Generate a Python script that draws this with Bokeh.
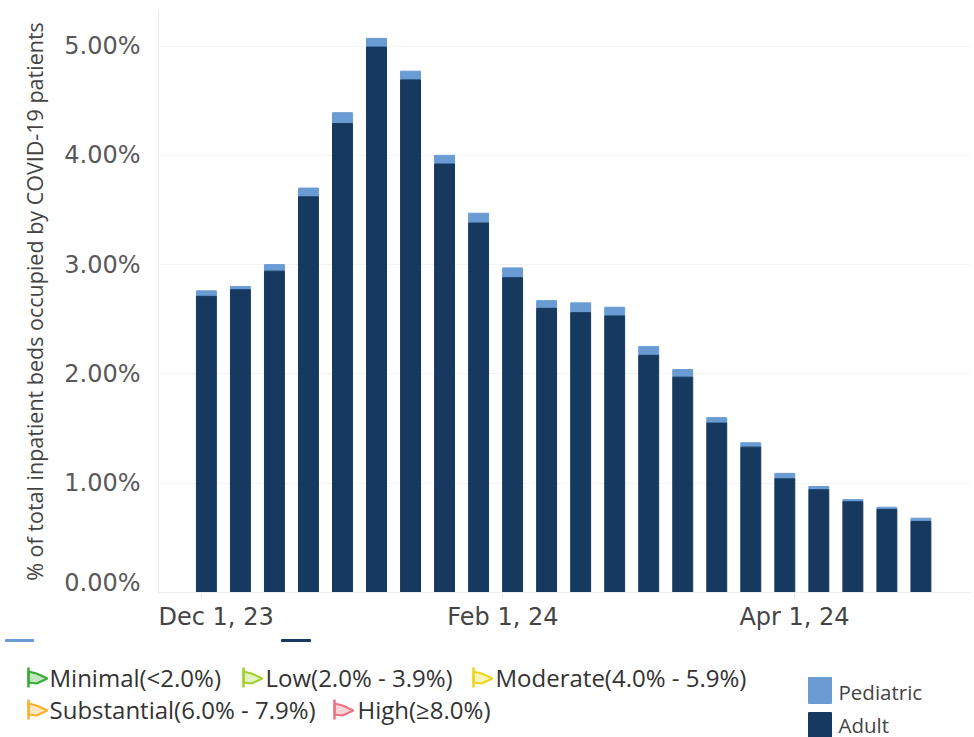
from datetime import datetime, timedelta
from bokeh.plotting import figure
from bokeh.layouts import column
from bokeh.models import Range1d, FixedTicker
from bokeh.core.properties import value
from bokeh.embed import file_html
from bokeh.resources import INLINE

start = datetime(2023, 12, 2)
dates = [start + timedelta(days=7 * i) for i in range(22)]
total = [2.76, 2.80, 3.00, 3.70, 4.39, 5.07, 4.77, 4.00, 3.47, 2.97, 2.67,
         2.65, 2.61, 2.25, 2.04, 1.60, 1.37, 1.09, 0.97, 0.85, 0.78, 0.68]
adult = [2.71, 2.77, 2.94, 3.62, 4.29, 4.99, 4.69, 3.92, 3.38, 2.88, 2.60,
         2.56, 2.53, 2.17, 1.97, 1.55, 1.33, 1.04, 0.94, 0.83, 0.76, 0.65]
y_ticks = [0, 1, 2, 3, 4, 5]
y_label_pos = [0.09, 1, 2, 3, 4, 5]
y_labels = ["0.00%", "1.00%", "2.00%", "3.00%", "4.00%", "5.00%"]
x_label_dates = [datetime(2023, 12, 4), datetime(2024, 2, 1), datetime(2024, 4, 1)]
x_tick_dates = [datetime(2023, 12, 1), datetime(2024, 2, 1), datetime(2024, 4, 1)]
x_labels = ["Dec 1, 23", "Feb 1, 24", "Apr 1, 24"]
severity = ["Minimal(<2.0%)", "Low(2.0% - 3.9%)", "Moderate(4.0% - 5.9%)",
            "Substantial(6.0% - 7.9%)", "High(\u22658.0%)"]
severity_colors = ["#35ad35", "#a4cf2e", "#ecd61a", "#fbb02d", "#ec7482"]
series_names = ["Pediatric", "Adult"]
ADULT = "#15395f"
PED = "#6a9bd3"


def ms(d):
    return (d - datetime(1970, 1, 1)).total_seconds() * 1000


DAY = 86400000
dec1 = ms(x_tick_dates[0])
p = figure(width=974, height=636, output_backend="svg", toolbar_location=None,
           x_axis_type="datetime",
           x_range=Range1d(dec1 - 8.85 * DAY, dec1 + 158.2 * DAY),
           y_range=Range1d(0, 5.325),
           min_border_left=158, min_border_right=4, min_border_top=10, min_border_bottom=44)
p.frame_align = False
p.outline_line_color = None
p.xgrid.grid_line_color = None
p.ygrid.grid_line_color = "#f3f3f3"
p.ygrid.ticker = FixedTicker(ticks=y_ticks)

p.vbar(x=dates, bottom=adult, top=total, width=4.1 * DAY, color=PED)
p.vbar(x=dates, bottom=0, top=adult, width=4.1 * DAY, color=ADULT)

p.yaxis.ticker = FixedTicker(ticks=y_label_pos)
p.yaxis.major_label_overrides = dict(zip(y_label_pos, y_labels))
p.yaxis.major_tick_line_color = None
p.yaxis.minor_tick_line_color = None
p.yaxis.axis_line_color = "#ececec"
p.yaxis.major_label_text_font = "DejaVu Sans"
p.yaxis.major_label_text_font_size = "24px"
p.yaxis.major_label_text_color = "#595959"
p.yaxis.major_label_standoff = 12
p.yaxis.axis_label = "% of total inpatient beds occupied by COVID-19 patients"
p.yaxis.axis_label_text_font = "Open Sans"
p.yaxis.axis_label_text_font_style = "normal"
p.yaxis.axis_label_text_font_size = "21.5px"
p.yaxis.axis_label_text_color = "#444444"
p.yaxis.axis_label_standoff = 12

p.xaxis.ticker = FixedTicker(ticks=[ms(d) for d in x_label_dates],
                             minor_ticks=[ms(d) for d in x_tick_dates])
p.xaxis.major_label_overrides = {ms(d): t for d, t in zip(x_label_dates, x_labels)}
p.xaxis.major_tick_line_color = None
p.xaxis.minor_tick_line_color = "#e6e6e6"
p.xaxis.minor_tick_out = 6
p.xaxis.minor_tick_in = 0
p.xaxis.axis_line_color = "#ececec"
p.xaxis.major_label_text_font = "DejaVu Sans"
p.xaxis.major_label_text_font_size = "24px"
p.xaxis.major_label_text_color = "#444444"
p.xaxis.major_label_standoff = 4

# Legend panel: its ranges are page pixels
leg = figure(width=974, height=101, output_backend="svg", toolbar_location=None,
             x_range=Range1d(0, 974), y_range=Range1d(737, 636),
             min_border=0, min_border_left=0, min_border_right=0, min_border_top=0, min_border_bottom=0)
leg.frame_align = False
leg.axis.visible = False
leg.grid.visible = False
leg.outline_line_color = None

leg.quad(left=[5, 281], right=[33, 310], top=[639, 639], bottom=[641, 641], color=[PED, ADULT])

flag_x = [28, 243, 473, 28, 334]
flag_y = [677, 677, 677, 709, 709]
text_x = [49, 265, 495, 49, 357]
for fx, fy, tx, name, col in zip(flag_x, flag_y, text_x, severity, severity_colors):
    leg.line([fx, fx], [fy - 10, fy + 10], line_color=col, line_width=2.5)
    leg.patch([fx, fx + 8, fx + 19, fx + 8, fx], [fy - 6, fy - 4, fy + 1, fy + 6, fy + 5],
              fill_color=col, fill_alpha=0.3, line_color=col, line_width=2)
    leg.text([tx], [fy], text=[name], text_font=value("Open Sans"), text_font_size="24px",
             text_color="#333333", text_baseline="middle", text_align="left")

leg.quad(left=[808, 808], right=[831, 831], top=[677, 712], bottom=[703, 737], color=[PED, ADULT])
leg.text([838, 838], [691, 724], text=series_names, text_font=value("Open Sans"),
         text_font_size="20.5px", text_color="#444444", text_baseline="middle", text_align="left")

open("out.html", "w").write(file_html(column(p, leg, spacing=0), INLINE))
